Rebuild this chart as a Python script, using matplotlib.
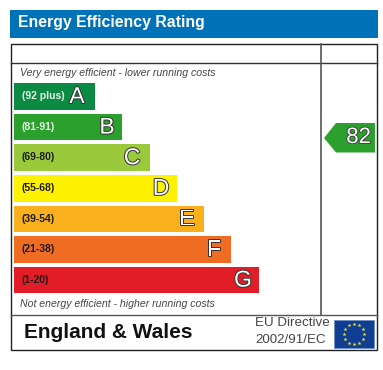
import numpy as np
import matplotlib
matplotlib.use("Agg")
import matplotlib.pyplot as plt
import matplotlib.patheffects as pe
from matplotlib.patches import Rectangle, Polygon

plt.rcParams['font.family'] = ['Liberation Sans', 'DejaVu Sans']

title = "Energy Efficiency Rating"
top_note = "Very energy efficient - lower running costs"
bottom_note = "Not energy efficient - higher running costs"
region = "England & Wales"
directive = ["EU Directive", "2002/91/EC"]
ranges = ["(92 plus)", "(81-91)", "(69-80)", "(55-68)", "(39-54)", "(21-38)", "(1-20)"]
letters = ["A", "B", "C", "D", "E", "F", "G"]
bar_lengths = [81, 108, 136, 163, 190, 217, 245]
letter_offsets = [18, 15, 18, 16, 17, 17, 16]
bar_colors = ["#0a8a43", "#2ca02c", "#9aca3c", "#fff200", "#f9b01c", "#ef6c23", "#e31d27"]
range_colors = ["#e6f2e6", "#e6f2e6", "#1a1a1a", "#1a1a1a", "#1a1a1a", "#1a1a1a", "#1a1a1a"]
current_rating = 82
current_color = "#2ca02c"

W, H = 383, 370
fig = plt.figure(figsize=(W / 100, H / 100), dpi=100)
ax = fig.add_axes([0, 0, 1, 1])
ax.set_xlim(0, W)
ax.set_ylim(H, 0)
ax.axis("off")

# header
ax.add_patch(Rectangle((10, 10), 368, 28, fc="#0072b8", ec="none"))
ax.text(17.5, 23, title, color="white", fontsize=11.4, fontweight="bold", va="center", ha="left")

# frame
ax.add_patch(Rectangle((11, 44), 366, 306, fc="white", ec="#222222", lw=1.0))
ax.plot([11, 377], [63, 63], color="#333333", lw=1.0)
ax.plot([11, 377], [315, 315], color="#555555", lw=1.0)
ax.plot([321, 321], [44, 315], color="#555555", lw=1.2)

# notes
ax.text(20, 72.5, top_note, style="italic", fontsize=7.6, color="#444444", va="center")
ax.text(20, 304, bottom_note, style="italic", fontsize=7.6, color="#444444", va="center")

# bands
y = 96.5 + 30.6 * np.arange(len(bar_lengths))
ax.barh(y, bar_lengths, height=26.5, left=14, color=bar_colors, edgecolor="none", zorder=2)

outline = [pe.withStroke(linewidth=1.4, foreground="#333333")]
for yi, length, rng, let, rc, off in zip(y, bar_lengths, ranges, letters, range_colors, letter_offsets):
    ax.text(21.5, yi - 0.3, rng, fontsize=7.5, fontweight="bold", color=rc, va="center", zorder=3)
    ax.text(14 + length - off, yi, let, fontsize=16.5, color="white", ha="center", va="center",
            path_effects=outline, zorder=3)

# current rating arrow
ax.add_patch(Polygon([(324, 138), (336, 123), (375, 123), (375, 152.5), (336, 152.5)],
                     closed=True, fc=current_color, ec="none", zorder=2))
ax.text(371, 137.5, str(current_rating), fontsize=16, color="white", ha="right", va="center",
        path_effects=[pe.withStroke(linewidth=1.4, foreground="#444444")], zorder=3)

# footer
ax.text(24, 332, region, fontsize=15, fontweight="bold", color="#111111", va="center")
ax.text(329.5, 323.5, directive[0], fontsize=9.6, color="#444444", ha="right", va="center")
ax.text(326.5, 340, directive[1], fontsize=9.6, color="#444444", ha="right", va="center")

# EU flag
ax.add_patch(Rectangle((334, 319.5), 40, 28.5, fc="#0f3e92", ec="#6f8fc5", lw=0.6, zorder=2))
ang = np.deg2rad(np.arange(12) * 30)
ax.scatter(354 + 10 * np.sin(ang), 334 - 10 * np.cos(ang), marker="*", s=9, c="#f2e21c",
           linewidths=0, zorder=3)

fig.savefig("out.png", dpi=100)
